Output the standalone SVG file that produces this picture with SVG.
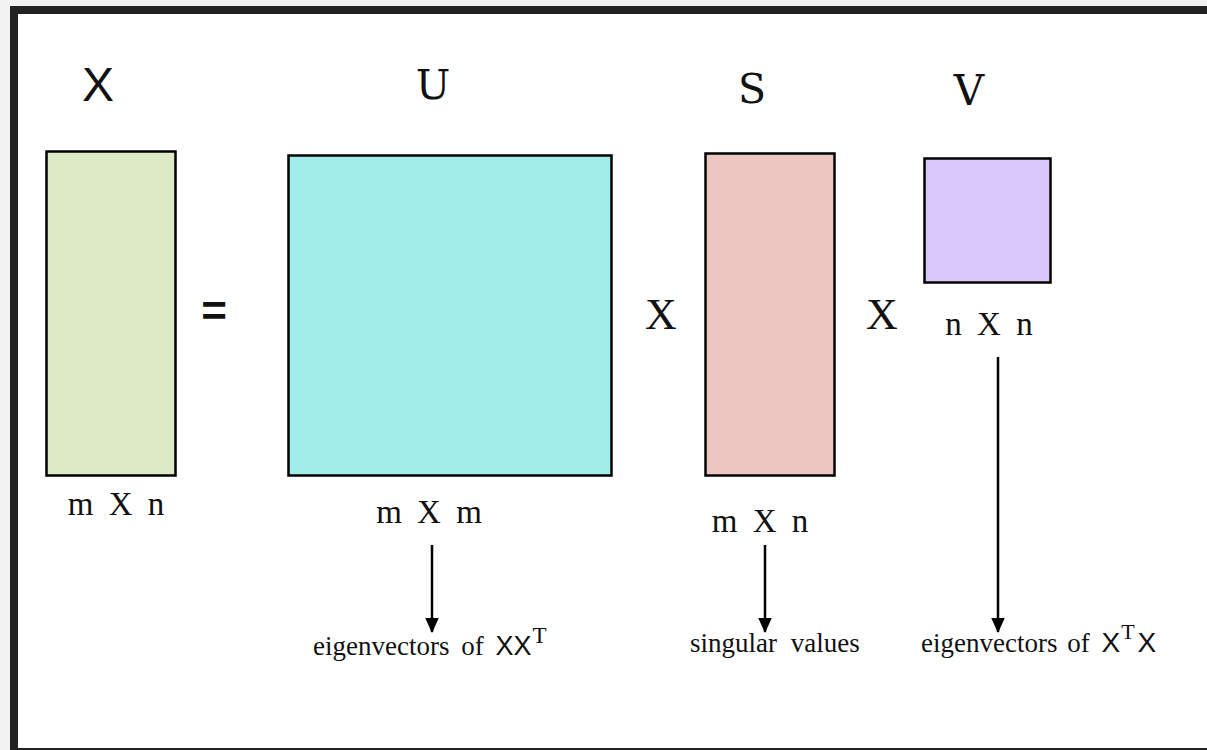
<svg xmlns="http://www.w3.org/2000/svg" width="1207" height="750" viewBox="0 0 1207 750">
<style>
.mat{stroke:#000;stroke-width:2.5}
.sans{font-family:"Liberation Sans",Arial,sans-serif;fill:#111}
.dserif{font-family:"DejaVu Serif",serif;fill:#111}
.serif{font-family:"Liberation Serif","Times New Roman",serif;fill:#111}
.dim{font-family:"Liberation Serif","Times New Roman",serif;font-size:33px;word-spacing:7px;text-anchor:middle;fill:#111}
.cap{font-family:"Liberation Serif","Times New Roman",serif;font-size:27px;fill:#111}
.conn{stroke:#000;stroke-width:2.5;fill:none}
</style>
<defs>
<marker id="ah" markerWidth="6" markerHeight="6" refX="5.6" refY="3" orient="auto" markerUnits="strokeWidth">
<path d="M0,0.3 L6,3 L0,5.7 Z" fill="#000"/>
</marker>
</defs>
<rect x="0" y="0" width="1207" height="750" fill="#f2f2f2"/>
<rect x="10" y="6" width="1197" height="744" fill="#222"/>
<rect x="18" y="14" width="1189" height="734" fill="#fff"/>
<g id="matX">
<rect class="mat" x="46.5" y="151.5" width="129" height="324" fill="#dde8c4"/>
<text class="sans" x="98" y="101" font-size="48" text-anchor="middle">X</text>
<text class="dim" x="116" y="515">m X n</text>
</g>
<g id="eq">
<text class="sans" x="214" y="326" font-size="44" font-weight="bold" text-anchor="middle">=</text>
</g>
<g id="matU">
<rect class="mat" x="288.5" y="155.5" width="323" height="320" fill="#a1ede9"/>
<text class="dserif" x="433" y="99" font-size="41" text-anchor="middle">U</text>
<text class="dim" x="429" y="523">m X m</text>
</g>
<g id="times1">
<text class="serif" x="661" y="329" font-size="44" text-anchor="middle">X</text>
</g>
<g id="matS">
<rect class="mat" x="705.5" y="153.5" width="129" height="322" fill="#ecc6c1"/>
<text class="dserif" x="752" y="103" font-size="41" text-anchor="middle">S</text>
<text class="dim" x="760" y="532">m X n</text>
</g>
<g id="times2">
<text class="serif" x="882" y="329" font-size="44" text-anchor="middle">X</text>
</g>
<g id="matV">
<rect class="mat" x="924.5" y="158.5" width="126" height="124" fill="#dbc8fa"/>
<text class="dserif" x="969" y="105" font-size="42" text-anchor="middle">V</text>
<text class="dim" x="989" y="335" font-size="31" word-spacing="9">n X n</text>
</g>
<g id="connectors">
<line class="conn" x1="432" y1="545" x2="432" y2="632" marker-end="url(#ah)"/>
<line class="conn" x1="765" y1="545" x2="765" y2="632" marker-end="url(#ah)"/>
<line class="conn" x1="998" y1="357" x2="998" y2="632" marker-end="url(#ah)"/>
</g>
<g id="capU">
<text class="cap" x="313" y="655" word-spacing="5">eigenvectors of <tspan class="sans" font-size="27">XX</tspan><tspan font-size="23" dy="-12" dx="1">T</tspan></text>
</g>
<g id="capS">
<text class="cap" x="690" y="652" word-spacing="7">singular values</text>
</g>
<g id="capV">
<text class="cap" x="921" y="652" word-spacing="3">eigenvectors of <tspan class="sans" font-size="28" dx="2">X</tspan><tspan font-size="22" dy="-13" dx="1">T</tspan><tspan class="sans" font-size="28" dy="13" dx="3">X</tspan></text>
</g>
</svg>
